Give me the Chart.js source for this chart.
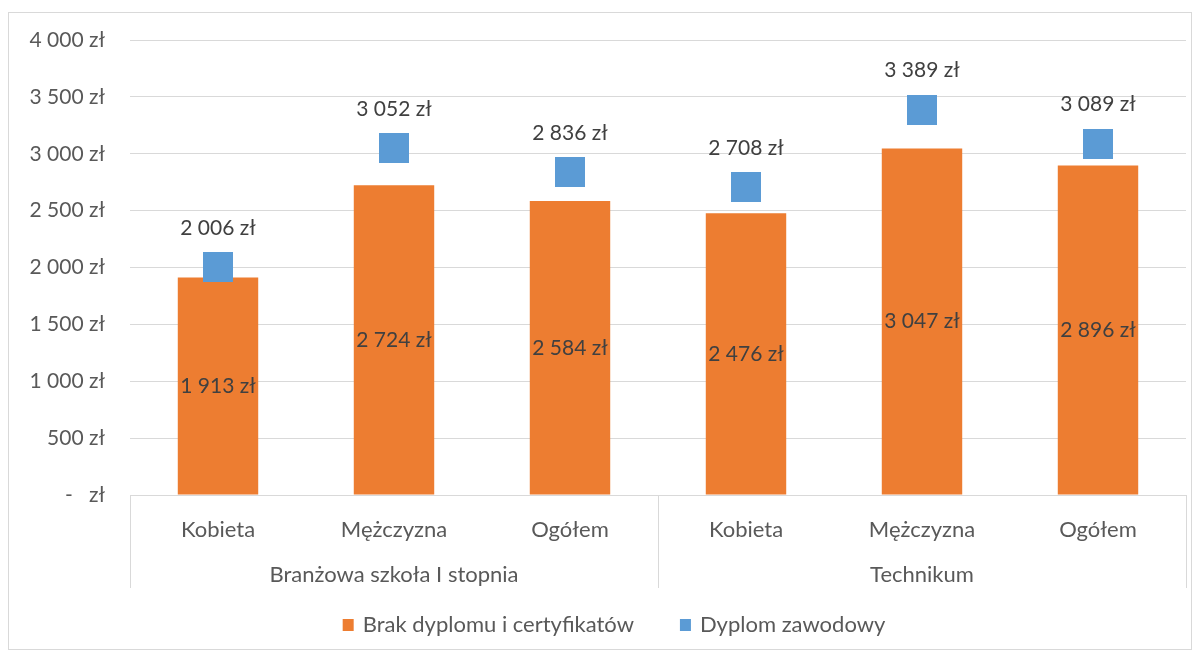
<!DOCTYPE html>
<html>
<head>
<meta charset="utf-8">
<script src="https://cdn.jsdelivr.net/npm/chart.js@4"></script>
<style>
  body { margin: 0; background: #fff; }
  #wrap { width: 1198px; height: 654px; }
</style>
</head>
<body>
<div id="wrap"><canvas id="myChart" width="1198" height="654"></canvas></div>
<script>
const categories = ['Kobieta', 'Mężczyzna', 'Ogółem', 'Kobieta', 'Mężczyzna', 'Ogółem'];
const groups = ['Branżowa szkoła I stopnia', 'Technikum'];
const groupSize = 3;
const noDiploma = [1913, 2724, 2584, 2476, 3047, 2896];
const vocational = [2006, 3052, 2836, 2708, 3389, 3089];
const seriesNames = ['Brak dyplomu i certyfikatów', 'Dyplom zawodowy'];

const FONT = 'Lato';
const TXT = '#595959';
const ORANGE = '#ED7D31';
const BLUE = '#5B9BD5';

function zl(v) {
    if (v === 0) return '-   zł';
    return String(Math.round(v)).replace(/\B(?=(\d{3})+(?!\d))/g, ' ') + ' zł';
}

// square marker as an image so it doesn't eat layout padding
const marker = document.createElement('canvas');
marker.width = 30;
marker.height = 30;
const mctx = marker.getContext('2d');
mctx.fillStyle = BLUE;
mctx.fillRect(0, 0, 30, 30);

const extras = {
    id: 'extras',
    beforeDraw: (chart) => {
        const { ctx } = chart;
        ctx.save();
        ctx.fillStyle = '#fff';
        ctx.fillRect(0, 0, chart.width, chart.height);
        ctx.strokeStyle = '#d9d9d9';
        ctx.lineWidth = 1;
        ctx.strokeRect(8.5, 12.5, 1183, 637);
        ctx.restore();
    },
    afterDatasetsDraw: (chart) => {
        const { ctx, chartArea: { left, right, bottom }, scales: { x } } = chart;
        ctx.save();
        ctx.font = '21px ' + FONT;
        ctx.fillStyle = '#404040';
        ctx.textAlign = 'center';
        ctx.textBaseline = 'middle';
        // bar labels at bar centre
        chart.getDatasetMeta(0).data.forEach((bar, i) => {
            ctx.fillText(zl(noDiploma[i]), bar.x, (bar.y + bar.base) / 2);
        });
        // point labels above
        chart.getDatasetMeta(1).data.forEach((pt, i) => {
            ctx.fillText(zl(vocational[i]), pt.x, pt.y - 39);
        });

        // group separators
        ctx.strokeStyle = '#d9d9d9';
        ctx.lineWidth = 1;
        const edges = [left];
        for (let g = 1; g < groups.length; g++) {
            edges.push((x.getPixelForValue(g * groupSize - 1) + x.getPixelForValue(g * groupSize)) / 2);
        }
        edges.push(right);
        edges.forEach(px => {
            const xx = Math.round(px) + 0.5;
            ctx.beginPath();
            ctx.moveTo(xx, bottom);
            ctx.lineTo(xx, 588);
            ctx.stroke();
        });
        ctx.font = '22px ' + FONT;
        ctx.fillStyle = TXT;
        groups.forEach((g, i) => {
            ctx.fillText(g, (edges[i] + edges[i + 1]) / 2, 575);
        });

        // legend
        const items = [{ text: seriesNames[0], color: ORANGE }, { text: seriesNames[1], color: BLUE }];
        const box = 11, gapBox = 9, gapItem = 46;
        const widths = items.map(it => box + gapBox + ctx.measureText(it.text).width);
        const total = widths.reduce((a, b) => a + b, 0) + gapItem * (items.length - 1);
        let cx = 614 - total / 2;
        const ly = 625;
        ctx.textAlign = 'left';
        items.forEach((it, i) => {
            ctx.fillStyle = it.color;
            ctx.fillRect(cx, ly - 6, box, 12);
            ctx.fillStyle = TXT;
            ctx.fillText(it.text, cx + box + gapBox, ly);
            cx += widths[i] + gapItem;
        });
        ctx.restore();
    }
};

new Chart(document.getElementById('myChart'), {
    type: 'bar',
    data: {
        labels: categories,
        datasets: [
            {
                label: seriesNames[0],
                data: noDiploma,
                backgroundColor: ORANGE,
                barPercentage: 0.457,
                categoryPercentage: 1,
                order: 2
            },
            {
                type: 'line',
                label: seriesNames[1],
                data: vocational,
                showLine: false,
                pointStyle: marker,
                pointRadius: 1,
                pointHoverRadius: 1,
                backgroundColor: BLUE,
                borderColor: BLUE,
                borderWidth: 0,
                order: 1
            }
        ]
    },
    plugins: [extras],
    options: {
        responsive: false,
        animation: false,
        layout: { padding: { top: 40, right: 12, bottom: 0, left: 0 } },
        plugins: {
            legend: { display: false },
            tooltip: { enabled: false }
        },
        scales: {
            x: {
                grid: { display: false },
                border: { display: true, color: '#d9d9d9' },
                ticks: {
                    color: TXT,
                    font: { family: FONT, size: 22 },
                    padding: 14,
                    maxRotation: 0,
                    autoSkip: false
                },
                afterFit: (s) => { s.height = 159; }
            },
            y: {
                min: 0,
                max: 4000,
                grid: { color: '#d9d9d9', drawTicks: false },
                border: { display: false },
                ticks: {
                    stepSize: 500,
                    color: TXT,
                    padding: 25,
                    font: { family: FONT, size: 21 },
                    callback: (v) => zl(v)
                },
                afterFit: (s) => { s.width = 130; }
            }
        }
    }
});
</script>
</body>
</html>
